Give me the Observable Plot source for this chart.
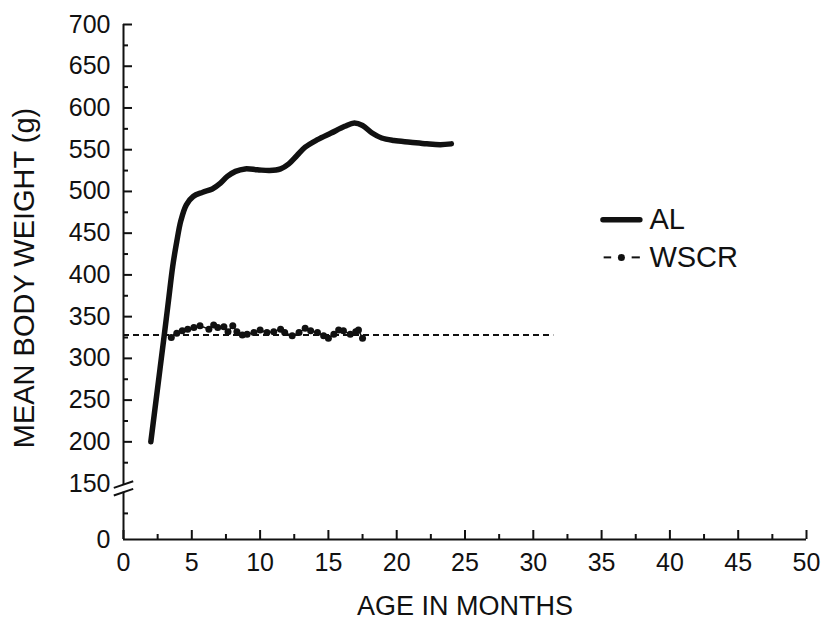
<!DOCTYPE html>
<html><head><meta charset="utf-8">
<script src="https://cdn.jsdelivr.net/npm/d3@7"></script>
<script src="https://cdn.jsdelivr.net/npm/@observablehq/plot@0.6"></script>
<style>
body{margin:0;background:#fff;}
#chart svg{display:block;}
</style></head><body><div id="chart"></div>
<script>
// AL series (age in months, mean body weight g)
const alAge = [2, 2.5, 3, 3.3, 3.6, 3.9, 4.2, 4.6, 5.1, 5.8, 6.5, 7.1, 7.6, 8.2, 8.9, 9.8, 10.7, 11.5, 12.1, 12.7, 13.3, 14.2, 15.2, 16.2, 16.9, 17.5, 18.2, 18.9, 19.8, 21, 22.2, 23.2, 24];
const alWeight = [200, 265, 330, 370, 410, 440, 465, 484, 494, 499, 503, 510, 518, 524, 527, 526, 525, 527, 533, 543, 553, 562, 570, 578, 582, 579, 570, 564, 561, 559, 557, 556, 557];
// WSCR series
const wscrAge = [3.5, 3.9, 4.3, 4.7, 5.15, 5.6, 6.25, 6.6, 6.9, 7.35, 7.65, 8.0, 8.3, 8.7, 9.05, 9.55, 10.0, 10.5, 11.0, 11.5, 11.8, 12.35, 12.85, 13.3, 13.7, 14.2, 14.65, 15.0, 15.4, 15.75, 16.1, 16.6, 17.0, 17.2, 17.5];
const wscrWeight = [325, 330, 333, 335, 337, 339, 335, 340, 337, 338, 332, 339, 332, 328, 329, 331, 334, 331, 332, 335, 331, 327, 331, 336, 333, 331, 327, 324, 329, 334, 333, 329, 332, 334, 324];
// WSCR target reference line
const wscrReference = 328;
const referenceEnd = 31.5;
// Ticks
const xTicks = [0, 5, 10, 15, 20, 25, 30, 35, 40, 45, 50];
const xMinorTicks = [2.5, 7.5, 12.5, 17.5, 22.5, 27.5, 32.5, 37.5, 42.5, 47.5];
const yTickLabels = [0, 150, 200, 250, 300, 350, 400, 450, 500, 550, 600, 650, 700];
const yMajorTicks = [200, 250, 300, 350, 400, 450, 500, 550, 600, 650, 700];
const yMinorTicks = [70, 175, 225, 275, 325, 375, 425, 475, 525, 575, 625, 675];
// Axis break: values below breakValue are compressed (0 sits at lowZero on the upper scale)
const breakValue = 150;
const lowZero = 83;
const yMax = 700;
const breakGap = [127, 147];
const breakLines = [
  {x1: -0.71, y1: 138.5, x2: 0.71, y2: 152.8},
  {x1: -0.71, y1: 117.9, x2: 0.71, y2: 135.8}
];
// Legend
const seriesNames = ["AL", "WSCR"];
const legendY = [466, 421];
const legendX = [35.1, 37.9, 38.5];

const yv = v => v >= breakValue ? v : lowZero + v * (breakValue - lowZero) / breakValue;
const labelOf = new Map(yTickLabels.map(v => [yv(v), String(v)]));

const al = alAge.map((a, i) => ({age: a, weight: alWeight[i]}));
const wscr = wscrAge.map((a, i) => ({age: a, weight: wscrWeight[i]}));

const ink = "#111";
const W = 823, H = 621;
const plot = Plot.plot({
  width: W, height: H,
  marginLeft: 123, marginRight: 17, marginTop: 24, marginBottom: 82,
  style: {fontFamily: "'Liberation Sans', Arial, sans-serif", fontSize: "24px", color: ink, background: "#fff"},
  x: {domain: [0, 50]},
  y: {domain: [yv(0), yMax]},
  marks: [
    // axes lines
    Plot.ruleY([yv(0)], {stroke: ink, strokeWidth: 2}),
    Plot.ruleX([0], {y1: yv(0), y2: yv(breakGap[0]), stroke: ink, strokeWidth: 2}),
    Plot.ruleX([0], {y1: yv(breakGap[1]), y2: yMax, stroke: ink, strokeWidth: 2}),
    Plot.link(breakLines, {x1: "x1", y1: d => yv(d.y1), x2: "x2", y2: d => yv(d.y2), stroke: ink, strokeWidth: 2}),
    // ticks
    Plot.axisX({ticks: xTicks, tickSize: -9, tickFormat: () => "", label: null, strokeWidth: 2}),
    Plot.axisX({ticks: xMinorTicks, tickSize: -5, tickFormat: () => "", label: null, strokeWidth: 2}),
    Plot.axisX({ticks: xTicks, tickSize: 0, tickPadding: 14, label: null, fontSize: 25}),
    Plot.axisY({ticks: yMajorTicks.map(yv), tickSize: -9, tickFormat: () => "", label: null, strokeWidth: 2}),
    Plot.axisY({ticks: yMinorTicks.map(yv), tickSize: -5, tickFormat: () => "", label: null, strokeWidth: 2}),
    Plot.axisY({ticks: yTickLabels.map(yv), tickSize: 0, tickPadding: 13, label: null, fontSize: 25, tickFormat: t => labelOf.get(t)}),
    // titles
    Plot.text(["AGE IN MONTHS"], {frameAnchor: "bottom", dy: 67, lineAnchor: "middle", textAnchor: "middle", fontSize: 27, fill: ink}),
    Plot.text(["MEAN BODY WEIGHT (g)"], {frameAnchor: "left", dx: -99, dy: -4, rotate: -90, lineAnchor: "middle", textAnchor: "middle", fontSize: 29, fill: ink}),
    // reference dashed line
    Plot.ruleY([yv(wscrReference)], {x1: 0, x2: referenceEnd, stroke: ink, strokeWidth: 2, strokeDasharray: "6,4"}),
    // WSCR
    Plot.line(wscr, {x: "age", y: d => yv(d.weight), stroke: ink, strokeWidth: 1.5}),
    Plot.dot(wscr, {x: "age", y: d => yv(d.weight), r: 3.5, fill: ink}),
    // AL
    Plot.line(al, {x: "age", y: d => yv(d.weight), curve: "catmull-rom", stroke: ink, strokeWidth: 5.5, strokeLinecap: "round", strokeLinejoin: "round"}),
    // legend
    Plot.link([0], {x1: legendX[0], x2: legendX[1] - 0.1, y1: legendY[0], y2: legendY[0], stroke: ink, strokeWidth: 5.5, strokeLinecap: "round"}),
    Plot.link([0], {x1: legendX[0] + 0.05, x2: legendX[0] + 0.6, y1: legendY[1], y2: legendY[1], stroke: ink, strokeWidth: 2}),
    Plot.link([0], {x1: legendX[1] - 0.7, x2: legendX[1] - 0.1, y1: legendY[1], y2: legendY[1], stroke: ink, strokeWidth: 2}),
    Plot.dot([0], {x: (legendX[0] + legendX[1]) / 2 - 0.05, y: legendY[1], r: 3.5, fill: ink}),
    Plot.text(seriesNames, {x: legendX[2], y: (d, i) => legendY[i], text: d => d, textAnchor: "start", lineAnchor: "middle", fontSize: 29, fill: ink})
  ]
});
document.getElementById("chart").appendChild(plot);
</script></body></html>
